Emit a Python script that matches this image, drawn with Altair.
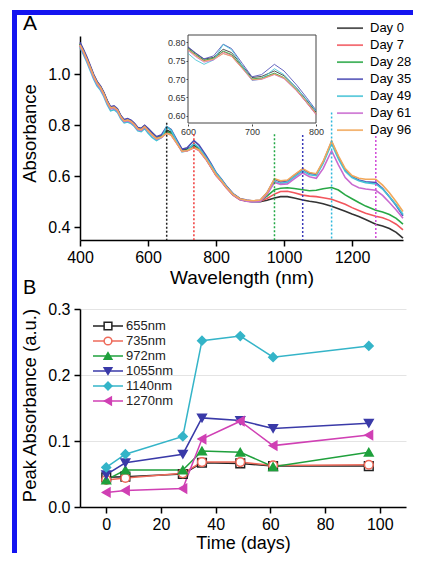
import altair as alt
import pandas as pd

FONT = "Liberation Sans"

# ---------------- Panel A: spectra ----------------
wavelength_nm = [400, 410, 420, 430, 440, 450, 460, 470, 480, 490,
                 500, 510, 520, 530, 540, 550, 560, 570, 580, 590,
                 600, 612, 625, 640, 655, 668, 685, 700, 715, 735,
                 750, 770, 785, 800, 815, 830, 850, 870, 890, 910,
                 930, 950, 972, 990, 1010, 1030, 1055, 1075, 1095, 1115,
                 1140, 1160, 1180, 1200, 1220, 1240, 1270, 1290, 1310, 1330, 1350]

day_labels = ["Day 0", "Day 7", "Day 28", "Day 35", "Day 49", "Day 61", "Day 96"]
day_colors = ["#333333", "#f2555c", "#28a745", "#4b4bb5", "#45c3d6", "#c96ad0", "#f2a85a"]

abs_day0 = [1.120, 1.093, 1.063, 1.030, 0.997, 0.970, 0.952, 0.927, 0.895, 0.870,
            0.873, 0.862, 0.836, 0.820, 0.824, 0.818, 0.806, 0.789, 0.786, 0.798,
            0.786, 0.770, 0.754, 0.759, 0.781, 0.772, 0.736, 0.704, 0.707, 0.722,
            0.709, 0.675, 0.643, 0.610, 0.586, 0.560, 0.530, 0.511, 0.503, 0.500,
            0.500, 0.506, 0.515, 0.520, 0.520, 0.515, 0.507, 0.502, 0.498, 0.492,
            0.482, 0.473, 0.463, 0.452, 0.442, 0.430, 0.412, 0.405, 0.395, 0.380, 0.357]
abs_day7 = [1.112, 1.088, 1.058, 1.025, 0.992, 0.965, 0.947, 0.922, 0.890, 0.866,
            0.869, 0.858, 0.832, 0.816, 0.820, 0.814, 0.802, 0.785, 0.782, 0.794,
            0.781, 0.765, 0.750, 0.755, 0.774, 0.765, 0.730, 0.699, 0.701, 0.714,
            0.702, 0.668, 0.636, 0.603, 0.580, 0.555, 0.526, 0.508, 0.502, 0.500,
            0.502, 0.513, 0.530, 0.540, 0.541, 0.535, 0.526, 0.522, 0.520, 0.516,
            0.510, 0.500, 0.490, 0.477, 0.466, 0.455, 0.443, 0.437, 0.427, 0.412, 0.390]
abs_day28 = [1.118, 1.092, 1.062, 1.028, 0.995, 0.968, 0.950, 0.925, 0.893, 0.868,
             0.872, 0.861, 0.834, 0.818, 0.822, 0.816, 0.804, 0.787, 0.784, 0.796,
             0.783, 0.767, 0.751, 0.757, 0.776, 0.767, 0.732, 0.700, 0.703, 0.716,
             0.704, 0.670, 0.638, 0.606, 0.583, 0.558, 0.528, 0.510, 0.503, 0.501,
             0.504, 0.522, 0.547, 0.553, 0.555, 0.552, 0.547, 0.543, 0.545, 0.551,
             0.556, 0.546, 0.527, 0.512, 0.497, 0.483, 0.467, 0.460, 0.450, 0.435, 0.412]
abs_day35 = [1.125, 1.098, 1.068, 1.034, 1.000, 0.972, 0.954, 0.929, 0.897, 0.872,
             0.876, 0.865, 0.838, 0.822, 0.826, 0.820, 0.808, 0.791, 0.788, 0.800,
             0.788, 0.771, 0.755, 0.763, 0.795, 0.783, 0.742, 0.706, 0.712, 0.740,
             0.722, 0.683, 0.650, 0.615, 0.590, 0.563, 0.532, 0.513, 0.507, 0.503,
             0.506, 0.535, 0.588, 0.578, 0.582, 0.603, 0.628, 0.612, 0.607, 0.655,
             0.735, 0.675, 0.625, 0.598, 0.585, 0.578, 0.575, 0.552, 0.520, 0.485, 0.445]
abs_day49 = [1.105, 1.078, 1.048, 1.015, 0.982, 0.955, 0.938, 0.913, 0.881, 0.857,
             0.861, 0.851, 0.825, 0.809, 0.813, 0.807, 0.795, 0.778, 0.775, 0.787,
             0.770, 0.752, 0.740, 0.752, 0.794, 0.780, 0.736, 0.696, 0.700, 0.728,
             0.712, 0.675, 0.645, 0.613, 0.588, 0.561, 0.530, 0.510, 0.503, 0.499,
             0.502, 0.530, 0.580, 0.572, 0.576, 0.597, 0.620, 0.606, 0.602, 0.650,
             0.728, 0.668, 0.620, 0.595, 0.582, 0.575, 0.570, 0.550, 0.520, 0.488, 0.450]
abs_day61 = [1.110, 1.085, 1.055, 1.022, 0.989, 0.962, 0.944, 0.919, 0.888, 0.864,
             0.867, 0.856, 0.830, 0.814, 0.818, 0.812, 0.800, 0.783, 0.780, 0.792,
             0.778, 0.761, 0.746, 0.752, 0.770, 0.762, 0.728, 0.697, 0.699, 0.712,
             0.701, 0.667, 0.636, 0.604, 0.581, 0.556, 0.527, 0.509, 0.502, 0.499,
             0.502, 0.528, 0.576, 0.568, 0.570, 0.590, 0.613, 0.598, 0.592, 0.630,
             0.700, 0.645, 0.595, 0.568, 0.555, 0.550, 0.545, 0.525, 0.497, 0.468, 0.435]
abs_day96 = [1.115, 1.090, 1.060, 1.027, 0.994, 0.967, 0.949, 0.924, 0.892, 0.868,
             0.871, 0.860, 0.833, 0.817, 0.821, 0.815, 0.803, 0.786, 0.783, 0.795,
             0.780, 0.763, 0.748, 0.754, 0.769, 0.762, 0.729, 0.698, 0.700, 0.713,
             0.703, 0.669, 0.638, 0.606, 0.583, 0.558, 0.529, 0.512, 0.506, 0.504,
             0.507, 0.535, 0.590, 0.582, 0.585, 0.605, 0.630, 0.615, 0.610, 0.658,
             0.738, 0.680, 0.630, 0.603, 0.592, 0.588, 0.588, 0.565, 0.535, 0.500, 0.462]

spectra = [abs_day0, abs_day7, abs_day28, abs_day35, abs_day49, abs_day61, abs_day96]

peak_nm = [655, 735, 972, 1055, 1140, 1270]
peak_line_top = [0.81, 0.765, 0.765, 0.762, 0.85, 0.758]
peak_line_color = ["#222222", "#f03a3a", "#22a845", "#3a3ab8", "#2fb8dc", "#d04ad8"]

# ---------------- Panel B: peak absorbance ----------------
time_days = [0, 7, 28, 35, 49, 61, 96]
band_labels = ["655nm", "735nm", "972nm", "1055nm", "1140nm", "1270nm"]
peak_655 = [0.045, 0.046, 0.050, 0.067, 0.066, 0.062, 0.062]
peak_735 = [0.041, 0.044, 0.051, 0.068, 0.068, 0.063, 0.064]
peak_972 = [0.041, 0.056, 0.056, 0.085, 0.083, 0.061, 0.083]
peak_1055 = [0.049, 0.067, 0.080, 0.135, 0.131, 0.119, 0.127]
peak_1140 = [0.060, 0.080, 0.107, 0.252, 0.259, 0.227, 0.244]
peak_1270 = [0.022, 0.025, 0.028, 0.103, 0.130, 0.093, 0.109]
peak_series = [peak_655, peak_735, peak_972, peak_1055, peak_1140, peak_1270]
band_colors = ["#222222", "#ee6a5a", "#1fa03c", "#3a3aa8", "#34b4c8", "#d040b4"]
band_shapes = ["square", "circle", "triangle-up", "triangle-down", "diamond", "triangle-left"]
band_fills = ["white", "white", "#1fa03c", "#3a3aa8", "#34b4c8", "#d040b4"]

# ---------------- tables ----------------
spec_df = pd.DataFrame([
    {"wavelength": w, "absorbance": v, "day": d}
    for d, series in zip(day_labels, spectra)
    for w, v in zip(wavelength_nm, series)
])
inset_df = spec_df[(spec_df["wavelength"] >= 600) & (spec_df["wavelength"] <= 800)]
peak_df = pd.DataFrame({"nm": peak_nm, "top": peak_line_top, "c": peak_line_color})
time_df = pd.DataFrame([
    {"days": t, "value": v, "band": b}
    for b, series in zip(band_labels, peak_series)
    for t, v in zip(time_days, series)
])
leg_df = pd.DataFrame({"band": band_labels})
one = pd.DataFrame({"k": [0]})

H_A = 204
H_B = 198
BLUE = "#1414f0"

# ---------------- Panel A ----------------
xa = alt.Scale(domain=[400, 1350], nice=False, zero=False)
ya = alt.Scale(domain=[0.35, 1.15], nice=False, zero=False)
color_a = alt.Scale(domain=day_labels, range=day_colors)
legend_a = alt.Legend(title=None, orient="none", legendX=256, legendY=-16,
                      symbolType="stroke", symbolSize=676, symbolStrokeWidth=1.8,
                      labelFontSize=13, labelFont=FONT, labelColor="black",
                      labelOffset=6, clipHeight=16.3, rowPadding=0, padding=0,
                      labelLimit=200)

axis_xa = alt.Axis(values=list(range(400, 1400, 100)), format="d",
                   labelExpr="datum.value % 200 == 0 ? datum.label : ''",
                   title="Wavelength (nm)", titleFontSize=19, titlePadding=3,
                   labelPadding=3, grid=False, labelFlush=False, labelOverlap=False)
axis_ya = alt.Axis(values=[0.4, 0.5, 0.6, 0.7, 0.8, 0.9, 1.0, 1.1], format=".1f",
                   labelExpr="round(datum.value*10) % 2 == 0 ? datum.label : ''",
                   title="Absorbance", titleFontSize=18.5, titlePadding=8, titleY=97,
                   labelPadding=4, grid=False, labelOverlap=False)

spec_lines = alt.Chart(spec_df).mark_line(strokeWidth=1.6).encode(
    x=alt.X("wavelength:Q", scale=xa, axis=axis_xa),
    y=alt.Y("absorbance:Q", scale=ya, axis=axis_ya),
    color=alt.Color("day:N", scale=color_a, legend=legend_a, sort=day_labels),
)

peak_rules = alt.Chart(peak_df).mark_rule(strokeDash=[2, 2], strokeWidth=1.5).encode(
    x=alt.X("nm:Q", scale=xa),
    y=alt.Y("top:Q", scale=ya),
    y2=alt.datum(0.35),
    stroke=alt.Stroke("c:N", scale=None),
)

bar_left = alt.Chart(one).mark_rect(color=BLUE).encode(
    x=alt.value(-68), x2=alt.value(-63), y=alt.value(-26), y2=alt.value(520)
)
bar_top = alt.Chart(one).mark_rect(color=BLUE).encode(
    x=alt.value(-68), x2=alt.value(333), y=alt.value(-26), y2=alt.value(-21)
)
label_a = alt.Chart(one).mark_text(text="A", fontSize=21, font=FONT, align="left",
                                   baseline="alphabetic", color="black").encode(
    x=alt.value(-57), y=alt.value(-6)
)

xi = alt.Scale(domain=[600, 800], range=[108, 236], nice=False, zero=False)
yi = alt.Scale(domain=[0.58, 0.82], range=[87, -1], nice=False, zero=False)
axis_xi = alt.Axis(orient="bottom", offset=88 - H_A, values=[600, 700, 800], format="d",
                   labelFontSize=9, labelColor="#333333", tickSize=2, tickColor="#444444",
                   tickWidth=1, domain=False, labelPadding=1, title=None, grid=False,
                   labelFlush=False)
axis_yi = alt.Axis(orient="left", offset=-108, values=[0.6, 0.65, 0.7, 0.75, 0.8],
                   format=".2f", labelFontSize=9, labelColor="#333333", tickSize=2,
                   tickColor="#444444", tickWidth=1, domain=False, labelPadding=1,
                   title=None, grid=False)

inset_frame = alt.Chart(one).mark_rect(fill="white", stroke="#444444", strokeWidth=1).encode(
    x=alt.X(datum=600, scale=xi, axis=axis_xi),
    x2=alt.datum(800),
    y=alt.Y(datum=0.58, scale=yi, axis=axis_yi),
    y2=alt.datum(0.82),
)
inset_lines = alt.Chart(inset_df).mark_line(strokeWidth=1, opacity=0.85).encode(
    x=alt.X("wavelength:Q", scale=xi, axis=axis_xi),
    y=alt.Y("absorbance:Q", scale=yi, axis=axis_yi),
    color=alt.Color("day:N", scale=color_a, legend=legend_a, sort=day_labels),
)

main_a = alt.layer(spec_lines, peak_rules, bar_left, bar_top, label_a)
inset_a = alt.layer(inset_frame, inset_lines)
panel_a = alt.layer(main_a, inset_a).resolve_scale(
    x="independent", y="independent"
).properties(width=323, height=H_A)

# ---------------- Panel B ----------------
xb = alt.Scale(domain=[-9.6, 109.6], nice=False, zero=False)
yb = alt.Scale(domain=[0, 0.3], nice=False, zero=False)
color_b = alt.Scale(domain=band_labels, range=band_colors)
shape_b = alt.Scale(domain=band_labels, range=band_shapes)
fill_b = alt.Scale(domain=band_labels, range=band_fills)

axis_xb = alt.Axis(values=list(range(0, 110, 10)), format="d",
                   labelExpr="datum.value % 20 == 0 ? datum.label : ''",
                   title="Time (days)", titleFontSize=18, titlePadding=2,
                   labelPadding=3, grid=False, labelFlush=False, labelOverlap=False)
axis_yb = alt.Axis(values=[0, 0.05, 0.1, 0.15, 0.2, 0.25, 0.3], format=".1f",
                   labelExpr="round(datum.value*20) % 2 == 0 ? datum.label : ''",
                   title="Peak Absorbance (a.u.)", titleFontSize=18.5, titlePadding=8,
                   titleY=96, labelPadding=4, grid=True, gridColor="#e4e4e4",
                   gridWidth=1, labelOverlap=False)

lines_b = alt.Chart(time_df).mark_line(strokeWidth=1.5).encode(
    x=alt.X("days:Q", scale=xb, axis=axis_xb),
    y=alt.Y("value:Q", scale=yb, axis=axis_yb),
    color=alt.Color("band:N", scale=color_b, legend=None, sort=band_labels),
)
points_b = alt.Chart(time_df).mark_point(size=75, strokeWidth=1.5, opacity=1,
                                         filled=False, fillOpacity=1).encode(
    x=alt.X("days:Q", scale=xb),
    y=alt.Y("value:Q", scale=yb),
    color=alt.Color("band:N", scale=color_b, legend=None, sort=band_labels),
    shape=alt.Shape("band:N", scale=shape_b, legend=None),
    fill=alt.Fill("band:N", scale=fill_b, legend=None),
)
label_b = alt.Chart(one).mark_text(text="B", fontSize=20, font=FONT, align="left",
                                   baseline="alphabetic", color="black").encode(
    x=alt.value(-57), y=alt.value(-15)
)

leg_y = alt.Y("band:N", scale=alt.Scale(type="point", domain=band_labels,
                                        range=[17, 92], padding=0), axis=None)
leg_rules = alt.Chart(leg_df).mark_rule(strokeWidth=1.5).encode(
    x=alt.value(13), x2=alt.value(43), y=leg_y,
    color=alt.Color("band:N", scale=color_b, legend=None),
)
leg_points = alt.Chart(leg_df).mark_point(size=60, strokeWidth=1.5, opacity=1,
                                          filled=False, fillOpacity=1).encode(
    x=alt.value(28), y=leg_y,
    color=alt.Color("band:N", scale=color_b, legend=None),
    shape=alt.Shape("band:N", scale=shape_b, legend=None),
    fill=alt.Fill("band:N", scale=fill_b, legend=None),
)
leg_text = alt.Chart(leg_df).mark_text(align="left", baseline="middle", fontSize=13,
                                       font=FONT, color="#222222").encode(
    x=alt.value(46), y=leg_y, text="band:N"
)

data_b = alt.layer(lines_b, points_b, label_b)
legend_b = alt.layer(leg_rules, leg_points, leg_text)
panel_b = alt.layer(data_b, legend_b).resolve_scale(y="independent").properties(
    width=326, height=H_B
)

chart = alt.vconcat(panel_a, panel_b, spacing=69, bounds="flush").resolve_scale(
    color="independent", shape="independent", fill="independent"
).properties(
    autosize=alt.AutoSizeParams(type="none"),
    padding={"left": 72, "top": 28, "right": 333, "bottom": 517},
    background="white",
).configure(font=FONT).configure_view(strokeWidth=0).configure_axis(
    domainColor="black", domainWidth=1.5, tickColor="black", tickWidth=1.5,
    tickSize=6, labelColor="black", labelFontSize=16, labelFont=FONT,
    titleFont=FONT, titleColor="black", titleFontWeight="normal",
)

chart.save("out.html", embed_options={"renderer": "svg", "actions": False})
